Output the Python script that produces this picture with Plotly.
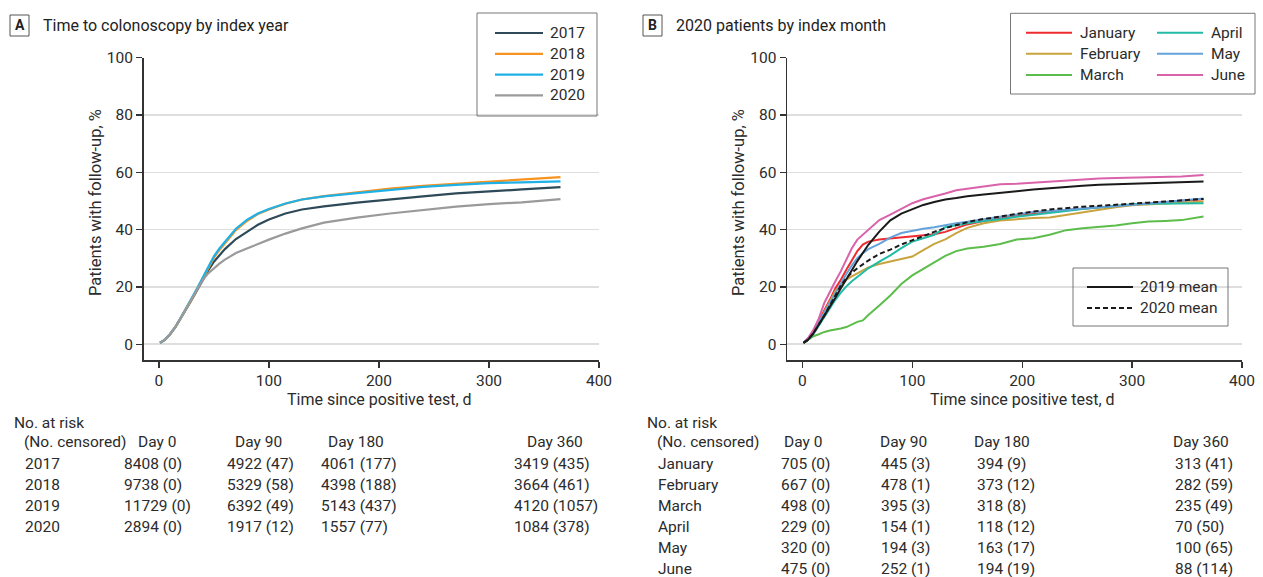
import plotly.graph_objects as go

W, H = 1263, 577
FONT = "Roboto"
TXT = "#2b2b2b"

# ---------------- Panel A data ----------------
days_A = [1, 5, 10, 15, 20, 25, 30, 35, 40, 45, 50, 55, 60, 70, 80, 90, 100, 115, 130, 150, 180, 210, 240, 270, 300, 330, 365]
y2017 = [0.5, 1.4, 3.4, 6.0, 9.2, 12.3, 15.6, 19.0, 22.5, 25.8, 28.8, 31.2, 33.2, 36.7, 39.3, 41.7, 43.5, 45.6, 47.0, 48.1, 49.4, 50.6, 51.6, 52.6, 53.4, 54.0, 54.8]
y2018 = [0.5, 1.4, 3.4, 6.0, 9.2, 12.4, 15.8, 19.4, 23.0, 26.7, 30.2, 32.9, 35.2, 39.8, 43.0, 45.4, 47.0, 49.0, 50.5, 51.7, 53.0, 54.3, 55.3, 56.0, 56.8, 57.4, 58.3]
y2019 = [0.5, 1.4, 3.5, 6.1, 9.3, 12.6, 16.0, 19.7, 23.4, 27.1, 30.7, 33.4, 35.7, 40.3, 43.4, 45.6, 47.2, 49.1, 50.5, 51.6, 52.7, 53.8, 54.9, 55.6, 56.2, 56.5, 56.8]
y2020 = [0.5, 1.4, 3.4, 6.1, 9.3, 12.6, 16.0, 19.5, 22.5, 24.8, 26.5, 28.1, 29.5, 31.8, 33.4, 35.0, 36.5, 38.6, 40.4, 42.4, 44.2, 45.6, 46.8, 48.0, 48.9, 49.5, 50.6]
years = ["2017", "2018", "2019", "2020"]

# ---------------- Panel B data ----------------
days_B = [1, 5, 10, 15, 20, 25, 30, 35, 40, 45, 50, 55, 60, 70, 80, 90, 100, 110, 120, 130, 140, 150,
          165, 180, 195, 210, 225, 240, 255, 270, 285, 300, 315, 330, 345, 365]
jan = [0.5, 2.0, 4.5, 8.0, 12.0, 15.5, 19.5, 22.5, 26.0, 29.5, 32.5, 34.8, 35.8, 36.5, 36.9, 37.2, 37.5, 38.0, 38.4, 39.2, 40.5, 41.8,
       43.0, 44.0, 44.8, 45.4, 46.2, 46.8, 47.3, 47.8, 48.2, 48.6, 49.2, 49.7, 50.1, 50.6]
feb = [0.5, 1.8, 4.0, 7.5, 11.0, 15.0, 18.5, 20.5, 22.5, 23.7, 24.7, 25.8, 26.8, 28.0, 28.8, 29.6, 30.6, 32.8, 35.0, 36.6, 38.8, 40.6,
       42.2, 43.2, 43.7, 44.0, 44.2, 45.1, 46.2, 47.0, 47.8, 48.5, 48.8, 49.1, 49.4, 49.8]
mar = [0.5, 1.5, 2.8, 3.5, 4.3, 4.8, 5.1, 5.5, 6.0, 7.0, 7.8, 8.3, 10.2, 13.5, 17.0, 21.0, 24.0, 26.3, 28.5, 30.8, 32.5, 33.4,
       34.0, 35.0, 36.5, 37.0, 38.2, 39.8, 40.5, 41.0, 41.4, 42.2, 42.8, 43.0, 43.3, 44.6]
apr = [0.5, 1.5, 3.5, 6.5, 9.7, 12.5, 15.5, 18.0, 20.2, 22.0, 23.5, 25.0, 26.5, 28.8, 31.0, 33.5, 35.8, 37.0, 38.2, 40.8, 41.6, 42.2,
       43.0, 43.6, 44.5, 45.1, 45.8, 46.5, 47.2, 47.8, 48.2, 48.8, 49.0, 49.1, 49.2, 49.2]
may = [0.5, 2.0, 4.3, 7.5, 11.0, 14.5, 18.0, 21.5, 24.5, 27.5, 30.0, 31.8, 33.2, 35.0, 37.2, 38.8, 39.6, 40.3, 40.8, 41.6, 42.2, 42.7,
       43.7, 44.5, 45.3, 46.1, 46.5, 47.0, 47.4, 47.8, 48.1, 48.5, 49.1, 49.6, 50.1, 50.8]
jun = [0.5, 2.0, 5.0, 9.0, 14.5, 18.5, 22.0, 25.5, 29.5, 33.5, 36.5, 38.2, 40.0, 43.3, 45.2, 47.2, 49.2, 50.6, 51.5, 52.6, 53.7, 54.2,
       55.0, 55.8, 56.0, 56.4, 56.8, 57.2, 57.4, 57.8, 58.0, 58.1, 58.2, 58.4, 58.5, 59.0]
mean2019 = [0.5, 1.5, 3.8, 6.8, 9.8, 13.0, 16.2, 19.5, 22.5, 25.8, 29.0, 32.0, 34.7, 39.3, 43.2, 45.6, 47.2, 48.6, 49.6, 50.5, 51.0, 51.6,
            52.2, 52.7, 53.4, 54.0, 54.5, 55.0, 55.3, 55.6, 55.8, 56.1, 56.3, 56.4, 56.6, 56.8]
mean2020 = [0.5, 1.5, 3.8, 6.8, 10.0, 13.5, 17.0, 20.5, 23.0, 25.0, 26.5, 28.0, 29.2, 31.5, 33.0, 34.8, 36.3, 37.8, 39.2, 40.5, 41.5, 42.6,
            43.7, 44.6, 45.5, 46.3, 47.0, 47.6, 48.0, 48.3, 48.6, 49.0, 49.4, 49.8, 50.2, 50.7]
months = ["January", "February", "March", "April", "May", "June"]

# ---------------- Risk tables ----------------
table_days = ["Day 0", "Day 90", "Day 180", "Day 360"]
risk_A = [["8408 (0)", "4922 (47)", "4061 (177)", "3419 (435)"],
          ["9738 (0)", "5329 (58)", "4398 (188)", "3664 (461)"],
          ["11729 (0)", "6392 (49)", "5143 (437)", "4120 (1057)"],
          ["2894 (0)", "1917 (12)", "1557 (77)", "1084 (378)"]]
risk_B = [["705 (0)", "445 (3)", "394 (9)", "313 (41)"],
          ["667 (0)", "478 (1)", "373 (12)", "282 (59)"],
          ["498 (0)", "395 (3)", "318 (8)", "235 (49)"],
          ["229 (0)", "154 (1)", "118 (12)", "70 (50)"],
          ["320 (0)", "194 (3)", "163 (17)", "100 (65)"],
          ["475 (0)", "252 (1)", "194 (19)", "88 (114)"]]

year_colors = ["#2e4a58", "#f7931e", "#1fb0e6", "#9a9a9c"]
month_colors = ["#ee2b2f", "#c9a43e", "#5cbd4b", "#22bba6", "#64a3da", "#da62ab"]
DASH = "5px,3px"

fig = go.Figure()
for name, ys, c in zip(years, [y2017, y2018, y2019, y2020], year_colors):
    fig.add_trace(go.Scatter(x=days_A, y=ys, mode="lines", name=name, line=dict(color=c, width=2.2),
                             xaxis="x", yaxis="y", showlegend=False))
for name, ys, c in zip(months, [jan, feb, mar, apr, may, jun], month_colors):
    fig.add_trace(go.Scatter(x=days_B, y=ys, mode="lines", name=name, line=dict(color=c, width=2),
                             xaxis="x2", yaxis="y2", showlegend=False))
fig.add_trace(go.Scatter(x=days_B, y=mean2019, mode="lines", name="2019 mean", line=dict(color="#1a1a1a", width=2),
                         xaxis="x2", yaxis="y2", showlegend=False))
fig.add_trace(go.Scatter(x=days_B, y=mean2020, mode="lines", name="2020 mean", line=dict(color="#1a1a1a", width=2, dash=DASH),
                         xaxis="x2", yaxis="y2", showlegend=False))

def px(v):
    return v / W
def py(v):
    return 1 - v / H

ydom = [py(360), py(57.6)]
axis_common = dict(range=[-14, 400], tickvals=[0, 100, 200, 300, 400], ticks="outside", ticklen=6, tickwidth=1.2,
                   tickcolor="#333", showline=True, linecolor="#333", linewidth=1.5, showgrid=False, zeroline=False,
                   tickfont=dict(family=FONT, size=15.5, color=TXT), fixedrange=True, automargin=False)
yaxis_common = dict(range=[-5.5, 100], tickvals=[0, 20, 40, 60, 80, 100], ticks="outside", ticklen=6, tickwidth=1.2,
                    tickcolor="#333", showline=True, linecolor="#333", linewidth=1.5, showgrid=True,
                    gridcolor="#dedede", gridwidth=1.5, zeroline=False,
                    tickfont=dict(family=FONT, size=15.5, color=TXT), domain=ydom, fixedrange=True, automargin=False)

fig.update_layout(
    width=W, height=H, margin=dict(l=0, r=0, t=0, b=0, pad=0, autoexpand=False),
    paper_bgcolor="white", plot_bgcolor="white", showlegend=False,
    xaxis=dict(domain=[px(143.5), px(599)], anchor="y", **axis_common),
    yaxis=dict(anchor="x", **yaxis_common),
    xaxis2=dict(domain=[px(787), px(1242)], anchor="y2", **axis_common),
    yaxis2=dict(anchor="x2", **yaxis_common),
    font=dict(family=FONT, size=15, color=TXT),
)

ann = []
shapes = []
def text(x, y, s, size=15.5, anchor="left", color=TXT, bold=False, angle=0):
    ann.append(dict(x=px(x), y=py(y), xref="paper", yref="paper", text=("<b>%s</b>" % s) if bold else s,
                    showarrow=False, xanchor=anchor, yanchor="middle", textangle=angle,
                    font=dict(family=FONT, size=size, color=color)))

def rect(x0, y0, x1, y1, color="#666", width=1):
    shapes.append(dict(type="rect", xref="paper", yref="paper", x0=px(x0), x1=px(x1), y0=py(y0), y1=py(y1),
                       line=dict(color=color, width=width), fillcolor="rgba(0,0,0,0)"))

def hline(x0, x1, y, color, width=2, dash="solid"):
    shapes.append(dict(type="line", xref="paper", yref="paper", x0=px(x0), x1=px(x1), y0=py(y), y1=py(y),
                       line=dict(color=color, width=width, dash=dash)))

# Panel labels and titles
rect(10, 15, 29, 36, color="#555")
text(19.5, 25.5, "A", size=14, anchor="center", bold=True, color="#222")
text(41, 25.5, "Time to colonoscopy by index year", size=16, color="#222")
rect(643, 15, 662, 36, color="#555")
text(652.5, 25.5, "B", size=14, anchor="center", bold=True, color="#222")
text(674, 25.5, "2020 patients by index month", size=16, color="#222")

# Axis titles
for cx in [379.3, 1022.3]:
    text(cx, 399, "Time since positive test, d", anchor="center", size=16)
text(96, 203, "Patients with follow-up, %", anchor="center", angle=-90, size=16.5)
text(739, 203, "Patients with follow-up, %", anchor="center", angle=-90, size=16.5)

# Legend A
rect(477, 13, 597, 116, color="#777")
for i, (name, c) in enumerate(zip(years, year_colors)):
    yy = 33 + i * 20.8
    hline(495, 543, yy, c, 2.2)
    text(548, yy, name)

# Legend B (months)
rect(1010.5, 13.3, 1255, 94, color="#777")
for i, (name, c) in enumerate(zip(months, month_colors)):
    col, row = divmod(i, 3)
    yy = 32.7 + row * 21.1
    x0 = 1026 if col == 0 else 1157
    hline(x0, x0 + 46, yy, c, 2)
    text(x0 + 52, yy, name)

# Legend B (means)
rect(1073, 268, 1228, 326, color="#777")
hline(1087, 1133, 287, "#1a1a1a", 2)
text(1138, 287, "2019 mean")
hline(1087, 1133, 308, "#1a1a1a", 2, dash=DASH)
text(1138, 308, "2020 mean")

# Risk tables
row_y = [464, 485, 506, 527, 548, 568.5]
text(12, 423, "No. at risk")
text(22, 442, "(No. censored)")
for hx, h in zip([157, 258, 356, 555], table_days):
    text(hx, 442, h, anchor="center")
for r, (lab, vals) in enumerate(zip(years, risk_A)):
    text(23, row_y[r], lab)
    for vx, v in zip([122, 225, 319, 512], vals):
        text(vx, row_y[r], v)

text(645, 423, "No. at risk")
text(655, 442, "(No. censored)")
for hx, h in zip([803, 903, 1002, 1201], table_days):
    text(hx, 442, h, anchor="center")
for r, (lab, vals) in enumerate(zip(months, risk_B)):
    text(656, row_y[r], lab)
    for vx, v in zip([779, 879, 975, 1173], vals):
        text(vx, row_y[r], v)

fig.update_layout(annotations=ann, shapes=shapes)
fig.write_html("out.html", config={"displayModeBar": False, "staticPlot": True},
               post_script="document.body.style.margin='0px';document.body.style.padding='0px';")
